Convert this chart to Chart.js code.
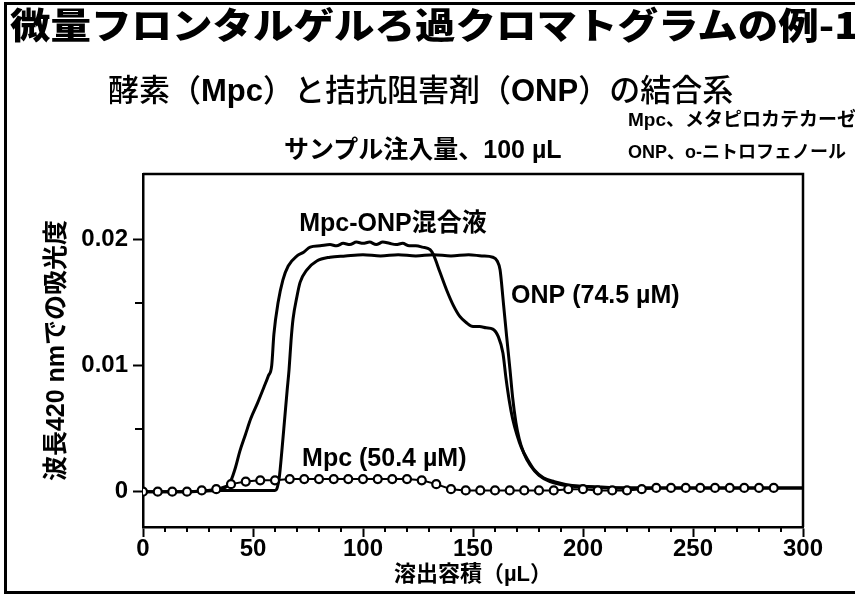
<!DOCTYPE html>
<html lang="ja">
<head>
<meta charset="utf-8">
<title>微量フロンタルゲルろ過クロマトグラムの例-1</title>
<script src="https://cdn.jsdelivr.net/npm/chart.js@4.4.1/dist/chart.umd.min.js"></script>
<style>
  html, body { margin: 0; padding: 0; background: #fff; }
  #fig { position: relative; width: 855px; height: 597px; overflow: hidden; background: #fff; }
  #plot { position: absolute; left: 0; top: 0; }
  .txt { position: absolute; white-space: nowrap; color: #000; line-height: 1;
         font-family: "Liberation Sans", "Noto Sans CJK JP", sans-serif; font-weight: bold; }
  .rule { position: absolute; background: #000; }
  #title { left: 10px; top: 5px; font-family: "Noto Sans CJK JP", sans-serif; font-size: 36px;
           font-weight: 900; transform: scaleX(1.125); transform-origin: 0 0; }
  #subtitle { left: 108px; top: 72px; font-size: 31px; font-weight: 500;
              font-family: "Noto Sans CJK JP", sans-serif; }
  #subtitle b { font-family: "Liberation Sans", sans-serif; font-weight: bold; }
  #sample { left: 284px; top: 137px; font-size: 25px; }
  #noteMpc { left: 628px; top: 110px; font-size: 19px; }
  #noteOnp { left: 628px; top: 143px; font-size: 18px; }
</style>
</head>
<body>
<div id="fig">
  <canvas id="plot" width="855" height="597"></canvas>
  <div class="rule" style="left:4px; top:2px; width:851px; height:3px;"></div>
  <div class="rule" style="left:4px; top:2px; width:3px; height:592px;"></div>
  <div class="rule" style="left:4px; top:591px; width:851px; height:3px;"></div>
  <div class="txt" id="title">微量フロンタルゲルろ過クロマトグラムの例-1</div>
  <div class="txt" id="subtitle">酵素（<b>Mpc</b>）と拮抗阻害剤（<b>ONP</b>）の結合系</div>
  <div class="txt" id="sample">サンプル注入量、100 µL</div>
  <div class="txt" id="noteMpc">Mpc、メタピロカテカーゼ</div>
  <div class="txt" id="noteOnp">ONP、o-ニトロフェノール</div>
</div>
<script>
// Elution volume (µL) and absorbance at 420 nm for each run.
const mixVol = [0, 20, 30, 35, 38, 40, 42, 44, 46.5, 49, 52, 55, 57, 58.5, 59.5, 61.4, 63.6, 66, 70, 73,
                76, 80.5, 85, 88, 91, 94, 97, 100, 103, 106, 109, 112, 115, 118, 121, 124, 127, 130.5, 132, 135,
                138, 141, 144, 147, 150, 153, 156, 159, 161.5, 163.6, 165, 166.5, 168, 170, 172, 175, 178, 182, 187, 195,
                205, 220, 240, 260, 280, 300];
const mixAbs = [0, 0, 0.0001, 0.0002, 0.0004, 0.0009, 0.0019, 0.0032, 0.0045, 0.0058, 0.0070, 0.0083, 0.0092, 0.0100, 0.0125, 0.0150, 0.0168, 0.0179, 0.0187, 0.0190,
                0.0194, 0.0195, 0.0196, 0.0195, 0.0197, 0.0196, 0.0198, 0.0197, 0.0198, 0.0196, 0.0198, 0.0197, 0.0196, 0.0197, 0.0195, 0.0195, 0.0194, 0.0192, 0.0188, 0.0174,
                0.0160, 0.0148, 0.0139, 0.0134, 0.0131, 0.0131, 0.0130, 0.0129, 0.0123, 0.0110, 0.0090, 0.0072, 0.0058, 0.0045, 0.0035, 0.0025, 0.0017, 0.0011, 0.0008, 0.0005,
                0.0004, 0.0003, 0.0003, 0.0003, 0.0003, 0.0003];

const onpVol = [0, 20, 35, 45, 55, 60, 61, 62, 63, 64.5, 65.5, 66.4, 67.3, 68.2, 70, 71.4, 74.5, 79, 85, 92,
                100, 108, 116, 124, 132, 140, 148, 154, 159, 161, 162.3, 163.8, 165.3, 166.8, 168, 169.5, 171, 173, 176, 180,
                185, 192, 200, 220, 250, 280, 300];
const onpAbs = [0, 0, 0.0001, 0.0001, 0.0001, 0.0001, 0.0003, 0.0012, 0.0030, 0.0060, 0.0080, 0.0097, 0.0120, 0.0137, 0.0155, 0.0166, 0.0176, 0.0183, 0.0186, 0.0187,
                0.0188, 0.0187, 0.0188, 0.0187, 0.0188, 0.0187, 0.0188, 0.0187, 0.0186, 0.0183, 0.0176, 0.0150, 0.0123, 0.0097, 0.0075, 0.0055, 0.0042, 0.0031, 0.0021, 0.0013,
                0.0008, 0.0005, 0.0004, 0.0003, 0.0003, 0.0003, 0.0003];

const mpcVol = [0, 6.7, 13.3, 20, 26.7, 33.3, 40, 46.7, 53.3, 60, 66.7, 73.3, 80, 86.7, 93.3, 100, 106.7, 113.3, 120, 126.7,
                133.3, 140, 146.7, 153.3, 160, 166.7, 173.3, 180, 186.7, 193.3, 200, 206.7, 213.3, 220, 226.7, 233.3, 240, 246.7, 253.3, 260,
                266.7, 273.3, 280, 286.7];
const mpcAbs = [0, 0, 0, 0, 0.0001, 0.0002, 0.0006, 0.0008, 0.0009, 0.0009, 0.0010, 0.0010, 0.0010, 0.0010, 0.0010, 0.0010, 0.0010, 0.0010, 0.0010, 0.0009,
                0.0006, 0.0002, 0.0001, 0.0001, 0.0001, 0.0001, 0.0001, 0.0001, 0.0001, 0.0002, 0.0002, 0.0001, 0.0001, 0.0001, 0.0002, 0.0003, 0.0003, 0.0003, 0.0003, 0.0003,
                0.0003, 0.0003, 0.0003, 0.0003];

// Axis ticks and labels.
const xMajorTicks = [0, 50, 100, 150, 200, 250, 300];
const xTickLabels = ['0', '50', '100', '150', '200', '250', '300'];
const xMinorTicks = [10, 20, 30, 40, 60, 70, 80, 90, 110, 120, 130, 140, 160, 170, 180, 190, 210, 220, 230, 240, 260, 270, 280, 290];
const yMajorTicks = [0, 0.01, 0.02];
const yTickLabels = ['0', '0.01', '0.02'];
const yMinorTicks = [0.005, 0.015];
const xTitle = '溶出容積（µL）';
const yTitle = '波長420 nmでの吸光度';

// Curve names, written next to each curve.
const seriesNames = ['Mpc-ONP混合液', 'ONP (74.5 µM)', 'Mpc (50.4 µM)'];

const pairs = (xs, ys) => xs.map((v, i) => ({ x: v, y: ys[i] }));

const FONT = '"Liberation Sans", "Noto Sans CJK JP", sans-serif';

// Where each curve name sits, in axis units, and how it is aligned.
const namePlacement = [
  { x: 113.6, y: 0.0212, align: 'center' },
  { x: 167.3, y: 0.01548, align: 'left' },
  { x: 72.3, y: 0.00262, align: 'left' }
];

const framePlugin = {
  id: 'frameAndNames',
  afterDraw(chart) {
    const { ctx, chartArea: a, scales: { x, y } } = chart;
    ctx.save();
    ctx.strokeStyle = '#000';
    ctx.lineWidth = 2.5;
    ctx.beginPath();
    ctx.moveTo(a.left, a.top);
    ctx.lineTo(a.right, a.top);
    ctx.lineTo(a.right, a.bottom);
    ctx.stroke();

    ctx.lineWidth = 2;
    ctx.beginPath();
    xMinorTicks.forEach(v => {
      const px = Math.round(x.getPixelForValue(v));
      ctx.moveTo(px, a.bottom);
      ctx.lineTo(px, a.bottom + 5);
    });
    yMinorTicks.forEach(v => {
      const py = Math.round(y.getPixelForValue(v));
      ctx.moveTo(a.left, py);
      ctx.lineTo(a.left - 8, py);
    });
    ctx.stroke();

    ctx.fillStyle = '#000';
    ctx.font = 'bold 25px ' + FONT;
    ctx.textBaseline = 'middle';
    seriesNames.forEach((name, i) => {
      const p = namePlacement[i];
      ctx.textAlign = p.align;
      ctx.fillText(name, x.getPixelForValue(p.x), y.getPixelForValue(p.y));
    });
    ctx.restore();
  }
};

new Chart(document.getElementById('plot'), {
  type: 'scatter',
  data: {
    datasets: [
      {
        label: 'Mpc', data: pairs(mpcVol, mpcAbs), showLine: true,
        borderColor: '#000', borderWidth: 2,
        pointRadius: 4, pointBorderWidth: 2.2, pointBackgroundColor: '#fff', pointBorderColor: '#000'
      },
      {
        label: 'ONP', data: pairs(onpVol, onpAbs), showLine: true,
        borderColor: '#000', borderWidth: 3, pointRadius: 0, cubicInterpolationMode: 'monotone'
      },
      {
        label: 'Mpc-ONP', data: pairs(mixVol, mixAbs), showLine: true,
        borderColor: '#000', borderWidth: 3, pointRadius: 0, cubicInterpolationMode: 'monotone'
      }
    ]
  },
  options: {
    responsive: false,
    devicePixelRatio: 1,
    animation: false,
    layout: { padding: { left: 0, right: 52, top: 174, bottom: 0 } },
    plugins: { legend: { display: false }, tooltip: { enabled: false } },
    scales: {
      x: {
        type: 'linear', min: 0, max: 300,
        afterBuildTicks: s => { s.ticks = xMajorTicks.map(v => ({ value: v })); },
        afterFit: s => { s.height = 70; },
        grid: { drawOnChartArea: false, drawTicks: true, tickLength: 10, tickWidth: 2, tickColor: '#000' },
        border: { display: true, color: '#000', width: 2.5 },
        ticks: {
          color: '#000', padding: 0, maxRotation: 0, autoSkip: false,
          font: { family: FONT, size: 24, weight: 'bold', lineHeight: 1 },
          callback: (v, i) => xTickLabels[i]
        },
        title: {
          display: true, text: xTitle, color: '#000',
          font: { family: FONT, size: 22, weight: 'bold' },
          padding: { top: 0, bottom: 9 }
        }
      },
      y: {
        type: 'linear', min: -0.0028, max: 0.0252,
        afterBuildTicks: s => { s.ticks = yMajorTicks.map(v => ({ value: v })); },
        afterFit: s => { s.width = 143; },
        grid: { drawOnChartArea: false, drawTicks: true, tickLength: 10, tickWidth: 2, tickColor: '#000' },
        border: { display: true, color: '#000', width: 2.5 },
        ticks: {
          color: '#000', padding: 5,
          font: { family: FONT, size: 24, weight: 'bold', lineHeight: 1 },
          callback: (v, i) => yTickLabels[i]
        },
        title: {
          display: true, text: yTitle, color: '#000',
          font: { family: FONT, size: 25, weight: 'bold' },
          padding: { top: 42, bottom: 0 }
        }
      }
    }
  },
  plugins: [framePlugin]
});
</script>
</body>
</html>
